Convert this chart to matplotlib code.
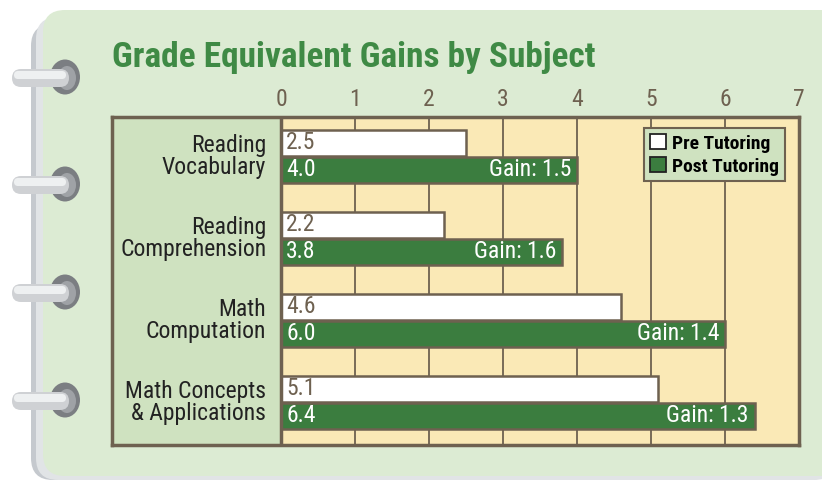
import numpy as np
import matplotlib.pyplot as plt
from matplotlib.patches import FancyBboxPatch, Ellipse, Patch

subjects = ["Reading\nVocabulary", "Reading\nComprehension",
            "Math\nComputation", "Math Concepts\n& Applications"]
pre_scores = [2.5, 2.2, 4.6, 5.1]
post_scores = [4.0, 3.8, 6.0, 6.4]
gains = [1.5, 1.6, 1.4, 1.3]
ticks = [0, 1, 2, 3, 4, 5, 6, 7]

CARD = "#dcebd3"
PANEL = "#cfe2c0"
PAPER = "#fae9b6"
GREEN = "#3b7d3f"
TITLE = "#3f8a45"
BROWN = "#6e6150"

plt.rcParams['font.family'] = ['Roboto Condensed', 'Roboto', 'DejaVu Sans']

fig = plt.figure(figsize=(8.22, 4.8), dpi=100)
fig.patch.set_facecolor("white")

# notebook card with binder rings, drawn in pixel units
bg = fig.add_axes([0, 0, 1, 1])
bg.set_xlim(0, 822)
bg.set_ylim(480, 0)
bg.axis("off")
bg.add_patch(FancyBboxPatch((31, 24), 800, 456, boxstyle="round,pad=0,rounding_size=22",
                            fc="#c5c9ce", ec="none"))
bg.add_patch(FancyBboxPatch((36, 17), 800, 463, boxstyle="round,pad=0,rounding_size=22",
                            fc="#e1e4e6", ec="none"))
bg.add_patch(FancyBboxPatch((43, 10), 800, 466, boxstyle="round,pad=0,rounding_size=22",
                            fc=CARD, ec="none"))
for ry in [77, 184, 292, 400]:
    bg.add_patch(Ellipse((65, ry), 30, 35, fc="#7b7e82", ec="none"))
    bg.add_patch(Ellipse((67, ry + 1), 18, 24, fc="#9fa2a6", ec="none"))
    bg.add_patch(FancyBboxPatch((12, ry - 8), 57, 18, boxstyle="round,pad=0,rounding_size=9",
                                fc="#cfd1d4", ec="none"))
    bg.add_patch(FancyBboxPatch((14, ry - 6), 52, 8, boxstyle="round,pad=0,rounding_size=4",
                                fc="#eef0f1", ec="none"))

fig.text(112 / 822, 1 - 58 / 480, "Grade Equivalent Gains by Subject", color=TITLE,
         fontsize=25.5, fontweight="bold", ha="left", va="center")

ax = fig.add_axes([112 / 822, 1 - 445 / 480, 687 / 822, 328 / 480])
x_left = -169 / 74
ax.set_xlim(x_left, 7)
ax.set_ylim(4, 0)
ax.set_facecolor(PAPER)
ax.axvspan(x_left, 0, color=PANEL, zorder=0)
for t in ticks[1:-1]:
    ax.axvline(t, color=BROWN, lw=1.3, zorder=1)
ax.axvline(0, color=BROWN, lw=2.5, zorder=4)

centers = np.arange(len(subjects)) + 0.48
h = 0.31
ax.barh(centers - 0.165, pre_scores, height=h, color="white", edgecolor=BROWN, lw=1.8, zorder=2)
ax.barh(centers + 0.165, post_scores, height=h, color=GREEN, edgecolor=BROWN, lw=1.8, zorder=2)

for c, name, p, q, g in zip(centers, subjects, pre_scores, post_scores, gains):
    ax.text(-0.2, c, name, ha="right", va="center", fontsize=17, color="#222222",
            linespacing=0.98)
    ax.text(0.07, c - 0.165, f"{p:.1f}", ha="left", va="center", fontsize=17, color=BROWN, zorder=3)
    ax.text(0.07, c + 0.165, f"{q:.1f}", ha="left", va="center", fontsize=17, color="white", zorder=3)
    ax.text(q - 0.08, c + 0.165, f"Gain: {g:.1f}", ha="right", va="center", fontsize=17,
            color="white", zorder=3)

ax.set_xticks(ticks)
ax.set_xticklabels([str(t) for t in ticks], fontsize=17, color=BROWN)
ax.xaxis.tick_top()
ax.tick_params(axis="x", length=0, pad=4)
ax.set_yticks([])
for s in ax.spines.values():
    s.set_color(BROWN)
    s.set_linewidth(2.5)

handles = [Patch(fc="white", ec="#222222", lw=1.3, label="Pre Tutoring"),
           Patch(fc=GREEN, ec="#222222", lw=1.3, label="Post Tutoring")]
leg = ax.legend(handles=handles, loc="upper right", bbox_to_anchor=(0.98, 0.965),
                prop={"weight": "bold", "size": 14}, handlelength=0.8, handleheight=0.8,
                handletextpad=0.35, borderpad=0.3, labelspacing=0.25, fancybox=False,
                framealpha=1, borderaxespad=0)
leg.get_frame().set_facecolor(PANEL)
leg.get_frame().set_edgecolor(BROWN)
leg.get_frame().set_linewidth(1.5)
leg.set_zorder(5)

fig.savefig("out.png", dpi=100)
